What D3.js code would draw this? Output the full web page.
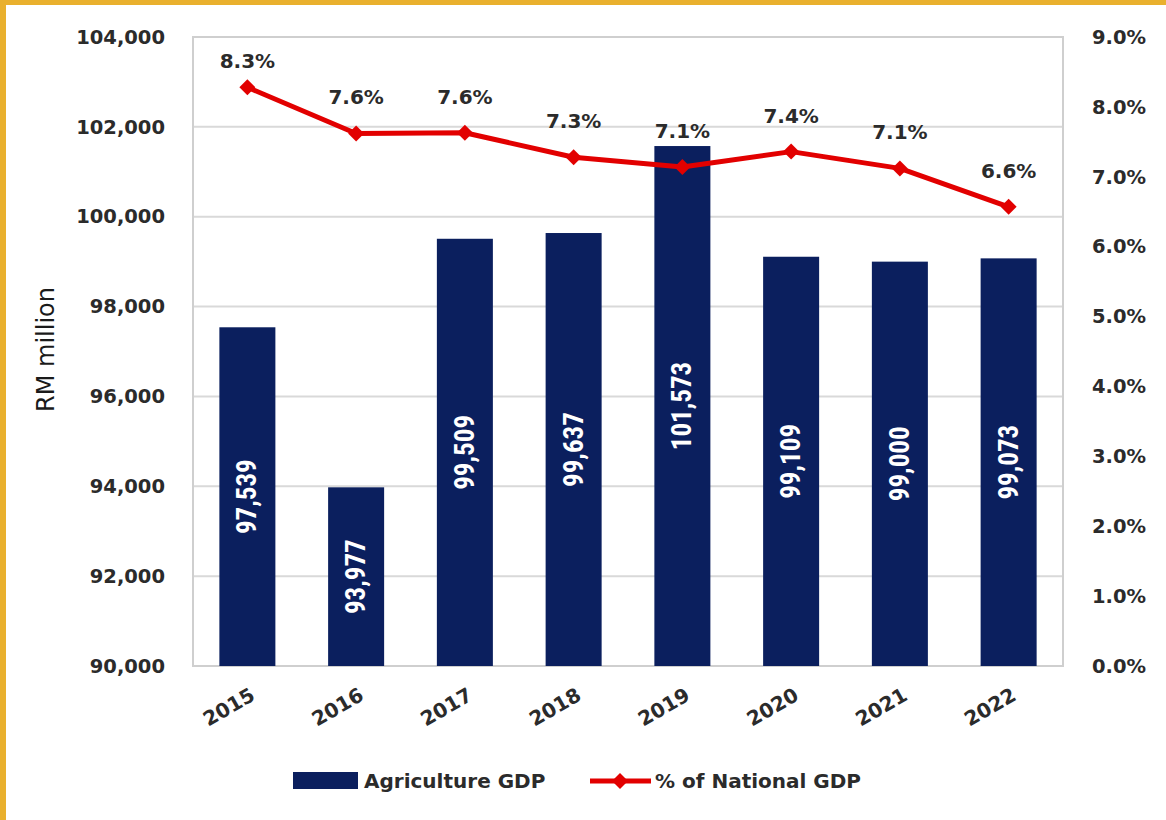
<!DOCTYPE html>
<html>
<head>
<meta charset="utf-8">
<script src="https://cdn.jsdelivr.net/npm/d3@7"></script>
<style>
  html, body { margin: 0; padding: 0; background: #ffffff; }
  svg { display: block; }
</style>
</head>
<body>
<svg id="chart" width="1166" height="820"></svg>
<script>
// ---- data ----
const years = ["2015", "2016", "2017", "2018", "2019", "2020", "2021", "2022"];
const agriGDP = [97539, 93977, 99509, 99637, 101573, 99109, 99000, 99073];
const shareNational = [8.28, 7.62, 7.63, 7.28, 7.14, 7.36, 7.12, 6.57];
const leftTicks = [90000, 92000, 94000, 96000, 98000, 100000, 102000, 104000];
const rightTicks = [0, 1, 2, 3, 4, 5, 6, 7, 8, 9];
const legendLabels = ["Agriculture GDP", "% of National GDP"];
const yTitle = "RM million";

// ---- layout ----
const W = 1166, H = 820;
const plot = { left: 193, right: 1063, top: 37, bottom: 666 };
const barColor = "#0b1f5e";
const lineColor = "#e20000";
const textColor = "#2b2b2b";
const gold = "#e9b02e";
const mainFont = "'DejaVu Sans', Verdana, sans-serif";

const svg = d3.select("#chart");
svg.append("rect").attr("width", W).attr("height", H).attr("fill", "#fff");

// gold frame (top & left)
svg.append("rect").attr("x", 0).attr("y", 0).attr("width", W).attr("height", 5).attr("fill", gold);
svg.append("rect").attr("x", 0).attr("y", 0).attr("width", 6).attr("height", H).attr("fill", gold);

const x = d3.scaleBand().domain(years).range([plot.left, plot.right])
  .paddingInner(0.485).paddingOuter(0.2425);
const y = d3.scaleLinear().domain([90000, 104000]).range([plot.bottom, plot.top]);
const y2 = d3.scaleLinear().domain([0, 9]).range([plot.bottom, plot.top]);

// gridlines
svg.append("g").selectAll("line").data(leftTicks).join("line")
  .attr("x1", plot.left).attr("x2", plot.right)
  .attr("y1", d => y(d)).attr("y2", d => y(d))
  .attr("stroke", "#d9d9d9").attr("stroke-width", 2);

// plot border
svg.append("rect")
  .attr("x", plot.left).attr("y", plot.top)
  .attr("width", plot.right - plot.left).attr("height", plot.bottom - plot.top)
  .attr("fill", "none").attr("stroke", "#cfcfcf").attr("stroke-width", 2);

// left axis
const leftAxis = d3.axisLeft(y).tickValues(leftTicks).tickSize(0).tickPadding(28)
  .tickFormat(d3.format(","));
const gl = svg.append("g").attr("transform", `translate(${plot.left},0)`).call(leftAxis);
gl.select(".domain").remove();
gl.selectAll("text").attr("font-family", mainFont).attr("font-weight", "bold")
  .attr("font-size", 19.5).attr("fill", textColor);

// right axis
const rightAxis = d3.axisRight(y2).tickValues(rightTicks).tickSize(0).tickPadding(29)
  .tickFormat(d => d.toFixed(1) + "%");
const gr = svg.append("g").attr("transform", `translate(${plot.right},0)`).call(rightAxis);
gr.select(".domain").remove();
gr.selectAll("text").attr("font-family", mainFont).attr("font-weight", "bold")
  .attr("font-size", 19.5).attr("fill", textColor);

// x axis labels (rotated)
svg.append("g").selectAll("text").data(years).join("text")
  .attr("transform", d => `translate(${x(d) + x.bandwidth() / 2 + 9},${plot.bottom + 33}) rotate(-30)`)
  .attr("text-anchor", "end")
  .attr("font-family", mainFont).attr("font-weight", "bold")
  .attr("font-size", 20).attr("fill", textColor)
  .text(d => d);

// y title
svg.append("text")
  .attr("transform", `translate(${54},${(plot.top + plot.bottom) / 2 - 2}) rotate(-90)`)
  .attr("text-anchor", "middle")
  .attr("font-family", mainFont).attr("font-size", 24).attr("fill", "#1a1a1a")
  .text(yTitle);

// bars
svg.append("g").selectAll("rect").data(years).join("rect")
  .attr("x", d => x(d))
  .attr("y", (d, i) => y(agriGDP[i]))
  .attr("width", x.bandwidth())
  .attr("height", (d, i) => plot.bottom - y(agriGDP[i]))
  .attr("fill", barColor);

// bar labels (vertical, centred)
svg.append("g").selectAll("text").data(years).join("text")
  .attr("transform", (d, i) => {
    const cx = x(d) + x.bandwidth() / 2;
    const cy = (y(agriGDP[i]) + plot.bottom) / 2;
    return `translate(${cx},${cy}) rotate(-90)`;
  })
  .attr("text-anchor", "middle").attr("dominant-baseline", "central")
  .attr("font-family", "'Liberation Sans Narrow', 'Roboto Condensed', 'Arial Narrow', Roboto, sans-serif")
  .attr("font-weight", "bold").attr("font-size", 27).attr("fill", "#ffffff")
  .text((d, i) => d3.format(",")(agriGDP[i]));

// line
const cxOf = d => x(d) + x.bandwidth() / 2;
const line = d3.line().x((d, i) => cxOf(years[i])).y(d => y2(d));
svg.append("path").datum(shareNational)
  .attr("d", line).attr("fill", "none")
  .attr("stroke", lineColor).attr("stroke-width", 5).attr("stroke-linejoin", "round");

const diamond = r => `M0,${-r}L${r},0L0,${r}L${-r},0Z`;
svg.append("g").selectAll("path").data(shareNational).join("path")
  .attr("transform", (d, i) => `translate(${cxOf(years[i])},${y2(d)})`)
  .attr("d", diamond(8)).attr("fill", lineColor);

// point labels
svg.append("g").selectAll("text").data(shareNational).join("text")
  .attr("x", (d, i) => cxOf(years[i]))
  .attr("y", d => Math.max(y2(d) - 36, plot.top + 24))
  .attr("text-anchor", "middle").attr("dominant-baseline", "central")
  .attr("font-family", mainFont).attr("font-weight", "bold")
  .attr("font-size", 20).attr("fill", textColor)
  .text(d => d.toFixed(1) + "%");

// legend
const lg = svg.append("g");
lg.append("rect").attr("x", 293).attr("y", 772).attr("width", 65).attr("height", 17).attr("fill", barColor);
lg.append("text").attr("x", 364).attr("y", 781).attr("dominant-baseline", "central")
  .attr("font-family", mainFont).attr("font-weight", "bold").attr("font-size", 20).attr("fill", textColor)
  .text(legendLabels[0]);
lg.append("line").attr("x1", 590).attr("x2", 651).attr("y1", 781).attr("y2", 781)
  .attr("stroke", lineColor).attr("stroke-width", 5);
lg.append("path").attr("transform", "translate(620,781)").attr("d", diamond(8)).attr("fill", lineColor);
lg.append("text").attr("x", 655).attr("y", 781).attr("dominant-baseline", "central")
  .attr("font-family", mainFont).attr("font-weight", "bold").attr("font-size", 20).attr("fill", textColor)
  .text(legendLabels[1]);
</script>
</body>
</html>
